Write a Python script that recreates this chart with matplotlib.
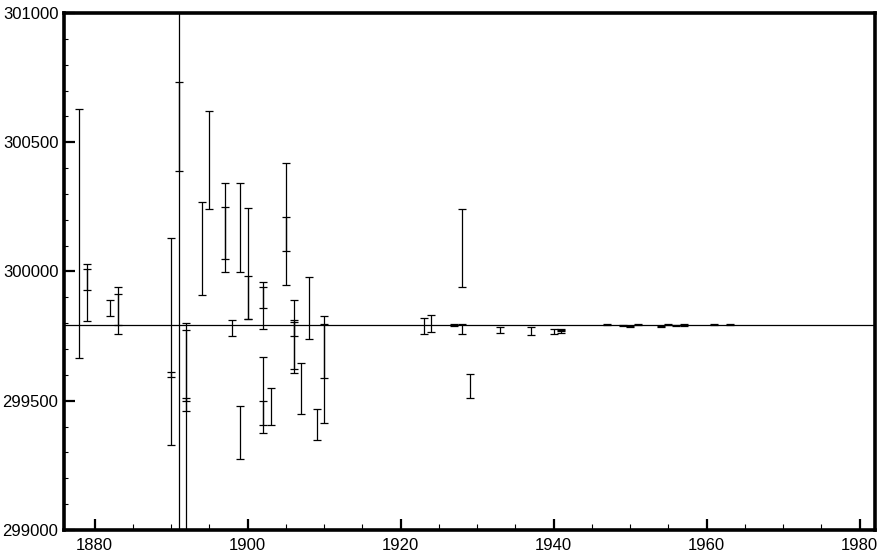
import numpy as np
import matplotlib
matplotlib.use("Agg")
import matplotlib.pyplot as plt
from matplotlib.ticker import MultipleLocator

# speed of light measurements (km/s) with their stated uncertainty
years = [1878, 1879, 1879, 1882, 1883, 1883,
         1890, 1890, 1891, 1891, 1892, 1892, 1892,
         1894, 1895, 1897, 1897, 1898, 1899, 1899,
         1900, 1900, 1902, 1902, 1902, 1902, 1903,
         1905, 1905, 1906, 1906, 1906, 1907, 1908, 1909, 1910, 1910,
         1923, 1924, 1927, 1928, 1928, 1929, 1933, 1937, 1940, 1941, 1941,
         1947, 1949, 1950, 1951, 1954, 1955, 1956, 1957, 1961, 1963]
values = [300147, 299918, 299968, 299859, 299849, 299852,
          299730, 299601, 299900, 300560, 299250, 299636, 299485,
          300089, 300431, 300171, 300149, 299782, 300171, 299377,
          300031, 299900, 299868, 299899, 299521, 299452, 299477,
          300183, 300145, 299749, 299718, 299778, 299547, 299858, 299408, 299621, 299692,
          299789, 299799, 299794, 300090, 299776, 299556, 299773, 299770, 299767, 299775, 299767,
          299794, 299791, 299789, 299794, 299789, 299795, 299791, 299793, 299794, 299794]
errors = [483, 111, 41, 30, 91, 60,
          400, 9, 1300, 172, 550, 137, 26,
          180, 188, 172, 101, 30, 172, 101,
          214, 84, 90, 41, 147, 46, 72,
          236, 66, 141, 94, 28, 98, 120, 60, 206, 105,
          32, 32, 3, 151, 19, 46, 12, 17, 9, 4, 5,
          2, 2, 2, 2, 2, 2, 2, 2, 2, 2]

c_true = 299792.458

fig = plt.figure(figsize=(8.82, 5.58), dpi=100)
ax = fig.add_axes([0.0726, 0.0502, 0.9195, 0.9265])

ax.errorbar(years, values, yerr=errors, fmt="none", ecolor="black",
            elinewidth=0.9, capsize=3, capthick=0.9)
ax.axhline(c_true, color="black", lw=0.9)

ax.set_xlim(1876, 1982)
ax.set_ylim(299000, 301000)

ax.xaxis.set_major_locator(MultipleLocator(20))
ax.xaxis.set_minor_locator(MultipleLocator(5))
ax.yaxis.set_major_locator(MultipleLocator(500))
ax.yaxis.set_minor_locator(MultipleLocator(100))

ax.tick_params(axis="both", which="both", direction="in", top=False, right=False)
ax.tick_params(axis="both", which="major", length=8, width=1.6)
ax.tick_params(axis="x", which="minor", length=4, width=0.8)
ax.tick_params(axis="y", which="minor", length=3, width=0.8)
ax.tick_params(axis="x", pad=6)
ax.tick_params(axis="y", pad=4)

# x labels look narrow, y labels wider
for lab in ax.get_xticklabels():
    lab.set_fontfamily(["Liberation Sans Narrow", "Liberation Sans"])
    lab.set_fontsize(12)
for lab in ax.get_yticklabels():
    lab.set_fontfamily("Liberation Sans")
    lab.set_fontsize(12)

for sp in ax.spines.values():
    sp.set_linewidth(2.6)

fig.savefig("out.png", dpi=100)
